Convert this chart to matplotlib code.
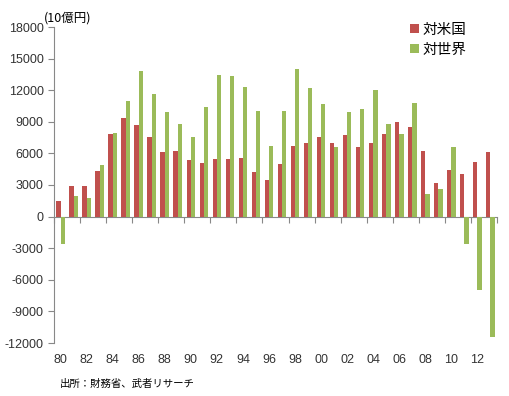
import numpy as np
import matplotlib
matplotlib.use("Agg")
import matplotlib.pyplot as plt

plt.rcParams['font.family'] = ['Liberation Sans', 'Noto Sans CJK JP', 'DejaVu Sans']
plt.rcParams['axes.unicode_minus'] = False

years = list(range(1980, 2014))
vs_us = [1500, 2950, 2950, 4300, 7850, 9350, 8650, 7600, 6100, 6200,
         5400, 5100, 5500, 5500, 5600, 4200, 3500, 5000, 6700, 7000,
         7600, 7000, 7700, 6600, 7000, 7800, 9000, 8550, 6200, 3200,
         4450, 4050, 5150, 6100]
vs_world = [-2600, 2000, 1800, 4900, 7950, 10950, 13800, 11600, 9900, 8800,
            7600, 10400, 13450, 13350, 12350, 10000, 6700, 10000, 14050, 12250,
            10700, 6600, 9900, 10200, 12000, 8750, 7850, 10800, 2100, 2650,
            6600, -2600, -7000, -11450]
tick_labels = [f"{y % 100:02d}" for y in years]

RED = "#C0504D"
GREEN = "#9BBB59"

fig = plt.figure(figsize=(5.1, 3.96), dpi=100)
ax = fig.add_axes([54 / 510, 1 - 343 / 396, (497 - 54) / 510, (343 - 27) / 396])

x = np.arange(len(years))
w = 0.33
ax.bar(x - w / 2, vs_us, w, color=RED, label="対米国")
ax.bar(x + w / 2, vs_world, w, color=GREEN, label="対世界")

ax.set_xlim(-0.5, len(years) - 0.5)
ax.set_ylim(-12000, 18000)
ax.set_yticks(np.arange(-12000, 18001, 3000))
ax.tick_params(axis="y", labelsize=9, colors="#333333", length=4, color="#888888")

ax.set_xticks(x[::2])
ax.set_xticklabels(tick_labels[::2], fontsize=9, color="#333333")
ax.tick_params(axis="x", length=0, pad=8)

for s in ["top", "right", "bottom"]:
    ax.spines[s].set_visible(False)
ax.spines["left"].set_color("#888888")

# zero line with its own tick marks
sec = ax.secondary_xaxis(12000 / 30000)
sec.set_xticks(np.arange(-0.5, len(years), 2))
sec.set_xticklabels([])
sec.tick_params(length=4, color="#888888")
sec.spines["bottom"].set_color("#888888")

fig.text(44 / 510, 1 - 18 / 396, "(10億円)", fontsize=9, va="center", ha="left",
         family=["Noto Sans CJK JP"])

leg = ax.legend(loc="upper left", bbox_to_anchor=(0.775, 1.055), frameon=False,
                handlelength=0.6, handleheight=0.6, handletextpad=0.2,
                labelspacing=0.4, prop={"family": "Noto Sans CJK JP", "size": 10.5})

fig.text(60 / 510, 1 - 384 / 396, "出所：財務省、武者リサーチ", fontsize=7.5, va="center",
         family=["Noto Sans CJK JP"])

fig.savefig("out.png", dpi=100)
